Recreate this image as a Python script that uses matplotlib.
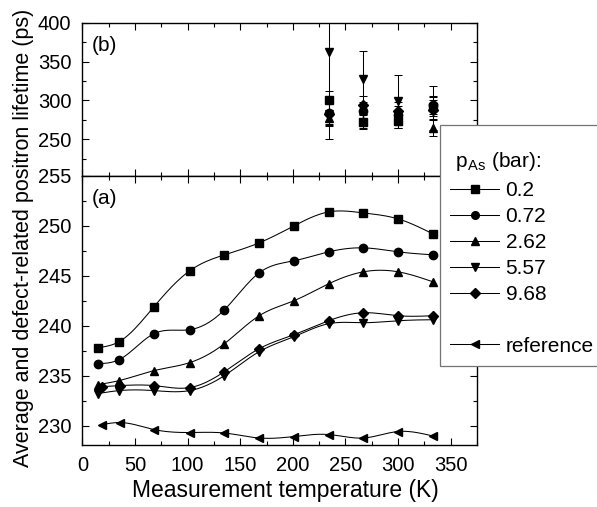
import numpy as np
import matplotlib as mpl
mpl.use('Agg')
import matplotlib.pyplot as plt
from matplotlib.lines import Line2D

# data
T_a = [15, 35, 68, 102, 135, 168, 201, 234, 267, 300, 333]
T_d = [19, 36, 68, 102, 135, 168, 201, 234, 267, 300, 333]

tau_02 = [237.8, 238.4, 241.9, 245.5, 247.1, 248.3, 250.0, 251.4, 251.3, 250.7, 249.2]
tau_072 = [236.2, 236.6, 239.2, 239.6, 241.6, 245.3, 246.5, 247.4, 247.8, 247.4, 247.1]
tau_262 = [234.1, 234.5, 235.5, 236.3, 238.2, 241.0, 242.5, 244.2, 245.4, 245.4, 244.4]
tau_557 = [233.2, 233.5, 233.5, 233.5, 235.0, 237.4, 238.9, 240.2, 240.3, 240.5, 240.6]
tau_968 = [233.9, 234.0, 234.0, 233.8, 235.4, 237.7, 239.1, 240.5, 241.3, 241.0, 241.0]
tau_ref = [230.1, 230.3, 229.6, 229.3, 229.25, 228.75, 228.9, 229.1, 228.75, 229.4, 228.95]

# defect-related lifetimes (panel b)
T_b = [234, 267, 300, 333]
def_02 = [300, 272, 274, 292]
def_072 = [284, 286, 281, 294]
def_262 = [278, 274, 277, 265]
def_557 = [362, 328, 299, 290]
def_968 = [282, 294, 286, 288]
err_02 = [12, 9, 9, 12]
err_072 = [14, 12, 12, 12]
err_262 = [10, 9, 9, 10]
err_557 = [111, 35, 34, 28]
err_968 = [15, 12, 12, 12]

labels = ['0.2', '0.72', '2.62', '5.57', '9.68']
markers = ['s', 'o', '^', 'v', 'D']


def smooth(x, y, n=200):
    # natural cubic spline, only used to draw the connecting curve
    x = np.asarray(x, float)
    y = np.asarray(y, float)
    k = len(x)
    h = np.diff(x)
    A = np.zeros((k, k))
    b = np.zeros(k)
    A[0, 0] = A[-1, -1] = 1
    for i in range(1, k - 1):
        A[i, i - 1] = h[i - 1]
        A[i, i] = 2 * (h[i - 1] + h[i])
        A[i, i + 1] = h[i]
        b[i] = 6 * ((y[i + 1] - y[i]) / h[i] - (y[i] - y[i - 1]) / h[i - 1])
    M = np.linalg.solve(A, b)
    xs = np.linspace(x[0], x[-1], n)
    idx = np.clip(np.searchsorted(x, xs) - 1, 0, k - 2)
    x0, x1 = x[idx], x[idx + 1]
    hh = x1 - x0
    t0 = x1 - xs
    t1 = xs - x0
    ys = (M[idx] * t0**3 + M[idx + 1] * t1**3) / (6 * hh) \
        + (y[idx] / hh - M[idx] * hh / 6) * t0 \
        + (y[idx + 1] / hh - M[idx + 1] * hh / 6) * t1
    return xs, ys


plt.rcParams['font.family'] = ['Liberation Sans', 'DejaVu Sans']
plt.rcParams['font.size'] = 15
plt.rcParams['mathtext.fontset'] = 'custom'
plt.rcParams['mathtext.rm'] = 'Liberation Sans'

fig = plt.figure(figsize=(5.97, 5.07), dpi=100)
ax_b = fig.add_axes([0.1379, 0.6529, 0.6612, 0.3024])
ax_a = fig.add_axes([0.1379, 0.1223, 0.6612, 0.5306])

for ax in (ax_a, ax_b):
    ax.tick_params(which='both', direction='in', top=True, right=True, width=0.8,
                   labelsize=14.5)
    ax.tick_params(which='major', length=5, pad=8)
    ax.tick_params(which='minor', length=3)
    ax.set_xlim(0, 375)
    ax.set_xticks(np.arange(0, 351, 50))
    ax.set_xticks(np.arange(25, 376, 50), minor=True)
    for s in ax.spines.values():
        s.set_linewidth(1.0)

# panel (a)
series_a = [tau_02, tau_072, tau_262, tau_557, tau_968]
for vals, m in zip(series_a, markers):
    T = T_d if m == 'D' else T_a
    xs, ys = smooth(T, vals)
    ax_a.plot(xs, ys, color='k', lw=0.75)
    ax_a.plot(T, vals, ls='none', marker=m, color='k',
              markersize=5.5 if m == 'D' else 6)
xs, ys = smooth(T_d, tau_ref)
ax_a.plot(xs, ys, color='k', lw=0.75)
ax_a.plot(T_d, tau_ref, ls='none', marker='<', color='k', markersize=6)

ax_a.set_ylim(228.05, 255)
ax_a.set_yticks([230, 235, 240, 245, 250, 255])
ax_a.set_yticks(np.arange(232.5, 255, 5), minor=True)
ax_a.set_xlabel('Measurement temperature (K)', fontsize=16.5)
ax_a.xaxis.set_label_coords(0.515, -0.128)
ax_a.text(0.025, 0.915, '(a)', transform=ax_a.transAxes, fontsize=15,
          va='center', ha='left')

# panel (b)
series_b = [(def_02, err_02), (def_072, err_072), (def_262, err_262),
            (def_557, err_557), (def_968, err_968)]
for (vals, err), m in zip(series_b, markers):
    ax_b.errorbar(T_b, vals, yerr=err, ls='none', marker=m, color='k',
                  markersize=5.5 if m == 'D' else 6, elinewidth=0.75,
                  capsize=3, capthick=0.75)
ax_b.set_ylim(203, 400)
ax_b.set_yticks([250, 300, 350, 400])
ax_b.set_yticks([225, 275, 325, 375], minor=True)
ax_b.set_xticklabels([])
ax_b.text(0.025, 0.85, '(b)', transform=ax_b.transAxes, fontsize=15,
          va='center', ha='left')

fig.text(24 / 597, 0.53, 'Average and defect-related positron lifetime (ps)',
         rotation=90, ha='center', va='center', fontsize=15.5)

# legend
handles = [Line2D([], [], color='k', lw=0.75, marker=m, markersize=5.5)
           for m in markers]
handles.append(Line2D([], [], color='none', lw=0))
handles.append(Line2D([], [], color='k', lw=0.75, marker='<', markersize=5.5))
leg = fig.legend(handles, labels + [' ', 'reference'],
                 title='\n p$_{\\mathregular{As}}$ (bar):', title_fontsize=15,
                 fontsize=15, loc='upper left',
                 bbox_to_anchor=(440 / 597, 1 - 125 / 507), borderaxespad=0,
                 fancybox=False, framealpha=1, edgecolor='0.45',
                 handlelength=2.35, handletextpad=0.3, labelspacing=0.33,
                 borderpad=0.5, alignment='left')
leg.get_title().set_linespacing(0.75)
leg._legend_box.sep = 6
leg.get_frame().set_linewidth(0.9)

fig.savefig('out.png', dpi=100)
